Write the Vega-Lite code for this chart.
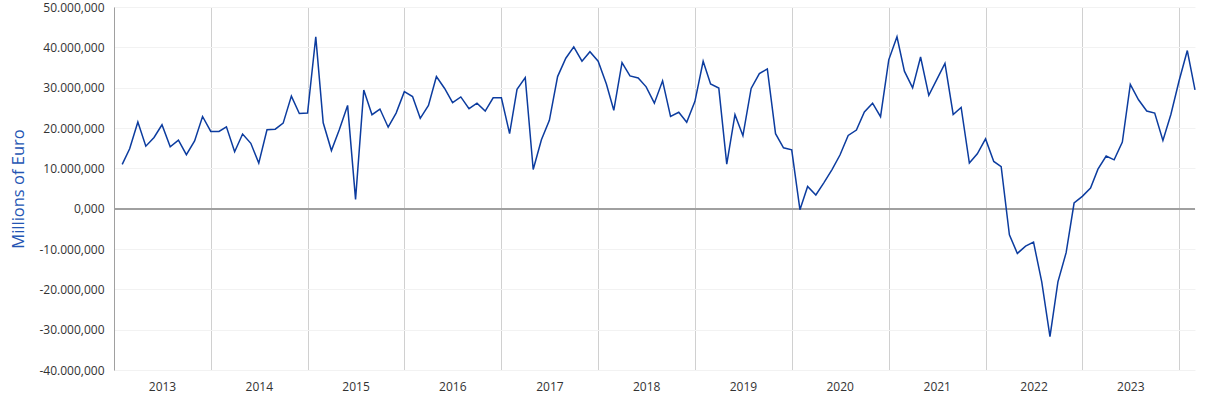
{
  "$schema": "https://vega.github.io/schema/vega-lite/v6.json",
  "width": 1081,
  "height": 363,
  "autosize": {"type": "none"},
  "padding": {"left": 114, "top": 7, "right": 20, "bottom": 30},
  "config": {
    "view": {"stroke": null},
    "font": "Open Sans",
    "locale": {"number": {"decimal": ",", "thousands": ".", "grouping": [3], "currency": ["", " €"], "minus": "-"}}
  },
  "data": {"values": [
    {"m":"2013-02-01","v":10970},{"m":"2013-03-01","v":14850},{"m":"2013-04-01","v":21500},{"m":"2013-05-01","v":15500},
    {"m":"2013-06-01","v":17650},{"m":"2013-07-01","v":20800},{"m":"2013-08-01","v":15350},{"m":"2013-09-01","v":17000},
    {"m":"2013-10-01","v":13400},{"m":"2013-11-01","v":16800},{"m":"2013-12-01","v":22850},
    {"m":"2014-01-01","v":19150},{"m":"2014-02-01","v":19150},{"m":"2014-03-01","v":20300},{"m":"2014-04-01","v":14100},
    {"m":"2014-05-01","v":18500},{"m":"2014-06-01","v":16200},{"m":"2014-07-01","v":11300},{"m":"2014-08-01","v":19550},
    {"m":"2014-09-01","v":19700},{"m":"2014-10-01","v":21200},{"m":"2014-11-01","v":27900},{"m":"2014-12-01","v":23600},
    {"m":"2015-01-01","v":23700},{"m":"2015-02-01","v":42600},{"m":"2015-03-01","v":21300},{"m":"2015-04-01","v":14400},
    {"m":"2015-05-01","v":19600},{"m":"2015-06-01","v":25600},{"m":"2015-07-01","v":2300},{"m":"2015-08-01","v":29400},
    {"m":"2015-09-01","v":23300},{"m":"2015-10-01","v":24700},{"m":"2015-11-01","v":20200},{"m":"2015-12-01","v":23700},
    {"m":"2016-01-01","v":29000},{"m":"2016-02-01","v":27800},{"m":"2016-03-01","v":22400},{"m":"2016-04-01","v":25600},
    {"m":"2016-05-01","v":32750},{"m":"2016-06-01","v":29800},{"m":"2016-07-01","v":26300},{"m":"2016-08-01","v":27700},
    {"m":"2016-09-01","v":24800},{"m":"2016-10-01","v":26150},{"m":"2016-11-01","v":24200},{"m":"2016-12-01","v":27500},
    {"m":"2017-01-01","v":27500},{"m":"2017-02-01","v":18600},{"m":"2017-03-01","v":29600},{"m":"2017-04-01","v":32500},
    {"m":"2017-05-01","v":9700},{"m":"2017-06-01","v":17100},{"m":"2017-07-01","v":21900},{"m":"2017-08-01","v":32750},
    {"m":"2017-09-01","v":37300},{"m":"2017-10-01","v":40100},{"m":"2017-11-01","v":36550},{"m":"2017-12-01","v":38900},
    {"m":"2018-01-01","v":36550},{"m":"2018-02-01","v":30900},{"m":"2018-03-01","v":24400},{"m":"2018-04-01","v":36200},
    {"m":"2018-05-01","v":32900},{"m":"2018-06-01","v":32400},{"m":"2018-07-01","v":30200},{"m":"2018-08-01","v":26150},
    {"m":"2018-09-01","v":31700},{"m":"2018-10-01","v":22900},{"m":"2018-11-01","v":23900},{"m":"2018-12-01","v":21450},
    {"m":"2019-01-01","v":26600},{"m":"2019-02-01","v":36550},{"m":"2019-03-01","v":30900},{"m":"2019-04-01","v":29900},
    {"m":"2019-05-01","v":11050},{"m":"2019-06-01","v":23300},{"m":"2019-07-01","v":18100},{"m":"2019-08-01","v":29800},
    {"m":"2019-09-01","v":33500},{"m":"2019-10-01","v":34650},{"m":"2019-11-01","v":18600},{"m":"2019-12-01","v":15100},
    {"m":"2020-01-01","v":14600},{"m":"2020-02-01","v":-250},{"m":"2020-03-01","v":5500},{"m":"2020-04-01","v":3400},
    {"m":"2020-05-01","v":6400},{"m":"2020-06-01","v":9700},{"m":"2020-07-01","v":13300},{"m":"2020-08-01","v":18150},
    {"m":"2020-09-01","v":19500},{"m":"2020-10-01","v":24000},{"m":"2020-11-01","v":26150},{"m":"2020-12-01","v":22800},
    {"m":"2021-01-01","v":36900},{"m":"2021-02-01","v":42600},{"m":"2021-03-01","v":34100},{"m":"2021-04-01","v":29950},
    {"m":"2021-05-01","v":37600},{"m":"2021-06-01","v":28100},{"m":"2021-07-01","v":32000},{"m":"2021-08-01","v":36000},
    {"m":"2021-09-01","v":23350},{"m":"2021-10-01","v":25100},{"m":"2021-11-01","v":11300},{"m":"2021-12-01","v":13600},
    {"m":"2022-01-01","v":17300},{"m":"2022-02-01","v":11700},{"m":"2022-03-01","v":10400},{"m":"2022-04-01","v":-6500},
    {"m":"2022-05-01","v":-11100},{"m":"2022-06-01","v":-9300},{"m":"2022-07-01","v":-8300},{"m":"2022-08-01","v":-18150},
    {"m":"2022-09-01","v":-31700},{"m":"2022-10-01","v":-18150},{"m":"2022-11-01","v":-10900},{"m":"2022-12-01","v":1400},
    {"m":"2023-01-01","v":3050},{"m":"2023-02-01","v":5100},{"m":"2023-03-01","v":9800},{"m":"2023-04-01","v":13050},
    {"m":"2023-05-01","v":12100},{"m":"2023-06-01","v":16500},{"m":"2023-07-01","v":30800},{"m":"2023-08-01","v":27000},
    {"m":"2023-09-01","v":24200},{"m":"2023-10-01","v":23700},{"m":"2023-11-01","v":16900},{"m":"2023-12-01","v":23350},
    {"m":"2024-01-01","v":31700},{"m":"2024-02-01","v":39200},{"m":"2024-03-01","v":29450}
  ]},
  "layer": [
    {
      "mark": {"type": "rule", "color": "#a0a0a0", "strokeWidth": 1},
      "encoding": {"y": {"datum": 0, "type": "quantitative"}}
    },
    {
      "mark": {"type": "line", "color": "#0c3c9f", "strokeWidth": 1.5, "interpolate": "linear"},
      "encoding": {
        "x": {
          "field": "m", "type": "temporal",
          "scale": {"type": "utc", "domain": [{"year": 2013, "month": 1, "date": 1, "utc": true}, {"year": 2024, "month": 3, "date": 1, "utc": true}]},
          "axis": {
            "title": null,
            "values": [
              {"year": 2013, "month": 1, "date": 1, "utc": true}, {"year": 2014, "month": 1, "date": 1, "utc": true},
              {"year": 2015, "month": 1, "date": 1, "utc": true}, {"year": 2016, "month": 1, "date": 1, "utc": true},
              {"year": 2017, "month": 1, "date": 1, "utc": true}, {"year": 2018, "month": 1, "date": 1, "utc": true},
              {"year": 2019, "month": 1, "date": 1, "utc": true}, {"year": 2020, "month": 1, "date": 1, "utc": true},
              {"year": 2021, "month": 1, "date": 1, "utc": true}, {"year": 2022, "month": 1, "date": 1, "utc": true},
              {"year": 2023, "month": 1, "date": 1, "utc": true}, {"year": 2024, "month": 1, "date": 1, "utc": true}
            ],
            "labelExpr": "utcyear(datum.value) >= 2024 ? '' : utcFormat(datum.value, '%Y')",
            "labelOffset": 48,
            "labelFlush": false,
            "labelOverlap": false,
            "labelPadding": 11,
            "labelFontSize": 12,
            "labelColor": "#333333",
            "labelFont": "Open Sans",
            "ticks": false,
            "domain": false,
            "grid": true,
            "gridColor": "#d0d0d0",
            "gridWidth": 1
          }
        },
        "y": {
          "field": "v", "type": "quantitative",
          "scale": {"domain": [-40000, 50000], "nice": false, "zero": false},
          "axis": {
            "title": "Millions of Euro",
            "titleColor": "#2455b3",
            "titleFont": "Open Sans",
            "titleFontSize": 16.5,
            "titleFontWeight": "normal",
            "titlePadding": 12,
            "values": [-40000, -30000, -20000, -10000, 0, 10000, 20000, 30000, 40000, 50000],
            "format": ",.3f",
            "labelFontSize": 12,
            "labelColor": "#333333",
            "labelFont": "Open Sans",
            "labelPadding": 10,
            "labelFlush": false,
            "ticks": false,
            "domain": true,
            "domainColor": "#a0a0a0",
            "domainWidth": 1,
            "grid": true,
            "gridColor": "#f2f2f2",
            "gridWidth": 1
          }
        }
      }
    }
  ]
}
